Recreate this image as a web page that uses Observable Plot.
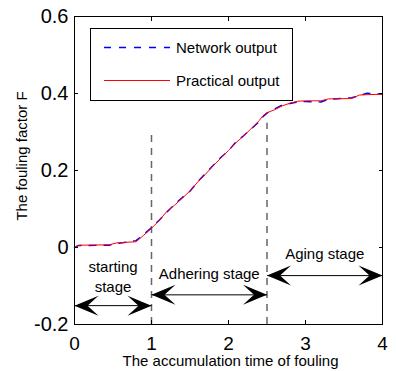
<!DOCTYPE html>
<html><head><meta charset="utf-8">
<script src="https://cdn.jsdelivr.net/npm/d3@7"></script>
<script src="https://cdn.jsdelivr.net/npm/@observablehq/plot@0.6"></script>
<style>body{margin:0;background:#fff}</style>
</head><body><div id="chart"></div>
<script>
// ---- data ----
const time      = [0, 0.05, 0.45, 0.55, 0.8, 0.9, 1.0, 1.1, 1.2, 1.3, 1.4, 1.5, 1.6, 1.7, 1.8, 1.9, 2.0, 2.1, 2.2, 2.3, 2.4, 2.45, 2.5, 2.6, 2.7, 2.8, 2.9, 3.0, 3.2, 3.3, 3.6, 3.7, 3.8, 4.0];
const practical = [0, 0.006, 0.007, 0.012, 0.015, 0.032, 0.05, 0.07, 0.094, 0.11, 0.128, 0.147, 0.17, 0.19, 0.212, 0.232, 0.252, 0.273, 0.29, 0.31, 0.33, 0.343, 0.35, 0.358, 0.368, 0.375, 0.38, 0.381, 0.381, 0.386, 0.387, 0.396, 0.397, 0.398];
const network   = [0, 0.005, 0.006, 0.010, 0.018, 0.034, 0.052, 0.071, 0.092, 0.112, 0.13, 0.146, 0.171, 0.192, 0.213, 0.234, 0.251, 0.275, 0.291, 0.309, 0.327, 0.34, 0.349, 0.36, 0.37, 0.374, 0.378, 0.379, 0.378, 0.385, 0.389, 0.394, 0.401, 0.398];
const seriesNames = ["Network output", "Practical output"];
const xTicks = [0, 1, 2, 3, 4];
const xTickLabels = ["0", "1", "2", "3", "4"];
const yTicks = [-0.2, 0, 0.2, 0.4, 0.6];
const yTickLabels = ["-0.2", "0", "0.2", "0.4", "0.6"];
const xTitle = "The accumulation time of fouling";
const yTitle = "The fouling factor F";
const stageNames  = ["starting\nstage", "Adhering stage", "Aging stage"];
const stageStart  = [0, 1, 2.5];
const stageEnd    = [1, 2.5, 4];
const stageArrowF = [-0.151, -0.123, -0.073];
const stageLabelF = [-0.072, -0.066, -0.013];
const boundaryT    = [1, 2.5];
const boundaryTopF = [0.293, 0.323];

// ---- tables ----
const networkRows = time.map((t, i) => ({t, F: network[i]}));
const practicalRows = time.map((t, i) => ({t, F: practical[i]}));
const stages = stageNames.map((name, i) => ({name, t0: stageStart[i], t1: stageEnd[i], a: stageArrowF[i], l: stageLabelF[i]}));
const boundaries = boundaryT.map((t, i) => ({t, top: boundaryTopF[i]}));
const heads = stages.flatMap(s => [{t: s.t0, F: s.a, rot: 180}, {t: s.t1, F: s.a, rot: 0}]);

const colors = {"Network output": "#0000ff", "Practical output": "#ff0000"};
const dashes = {"Network output": "7,8", "Practical output": null};
const widths = {"Network output": 1.4, "Practical output": 1};

const arrowHead = {
  draw(ctx) {
    ctx.moveTo(0, 0);
    ctx.lineTo(-24, -10);
    ctx.lineTo(-13, 0);
    ctx.lineTo(-24, 10);
    ctx.closePath();
  }
};

function legend(index, scales, values, dims) {
  const g = d3.create("svg:g");
  const x0 = dims.marginLeft + 16, y0 = dims.marginTop + 12;
  g.append("rect").attr("x", x0 + 0.5).attr("y", y0 + 0.5).attr("width", 202).attr("height", 72)
    .attr("fill", "white").attr("stroke", "black");
  seriesNames.forEach((s, i) => {
    const y = y0 + 19.5 + i * 33;
    g.append("line").attr("x1", x0 + 14).attr("x2", x0 + 80).attr("y1", y).attr("y2", y)
      .attr("stroke", colors[s]).attr("stroke-width", widths[s]).attr("stroke-dasharray", dashes[s]);
    g.append("text").attr("x", x0 + 86).attr("y", y).attr("dy", "0.35em").attr("text-anchor", "start")
      .attr("font-size", 15).attr("fill", "black").text(s);
  });
  return g.node();
}

function yTitleMark(index, scales, values, dims) {
  const g = d3.create("svg:g");
  g.append("text")
    .attr("transform", `translate(${dims.marginLeft - 52},${dims.marginTop + 140}) rotate(-90)`)
    .attr("text-anchor", "middle").attr("dy", "0.35em")
    .attr("font-size", 15).attr("fill", "black").text(yTitle);
  return g.node();
}

const chart = Plot.plot({
  width: 396,
  height: 371,
  marginLeft: 74,
  marginRight: 14,
  marginTop: 16,
  marginBottom: 47,
  style: {fontFamily: "'Liberation Sans', Arial, sans-serif", background: "white", color: "black"},
  x: {domain: [0, 4]},
  y: {domain: [-0.2, 0.6]},
  marks: [
    Plot.ruleX(boundaries, {x: "t", y1: -0.2, y2: "top", stroke: "#666", strokeWidth: 1.5, strokeDasharray: "7,6"}),
    Plot.line(networkRows, {x: "t", y: "F", stroke: colors["Network output"], strokeDasharray: dashes["Network output"], strokeWidth: widths["Network output"]}),
    Plot.line(practicalRows, {x: "t", y: "F", stroke: colors["Practical output"], strokeWidth: widths["Practical output"]}),
    Plot.link(stages, {x1: "t0", x2: "t1", y1: "a", y2: "a", stroke: "black", strokeWidth: 1}),
    Plot.dot(heads, {x: "t", y: "F", rotate: "rot", symbol: arrowHead, fill: "black", stroke: null, r: 5}),
    Plot.text(stages, {x: d => (d.t0 + d.t1) / 2, y: "l", text: "name", fontSize: 15, lineHeight: 1.33, fill: "black"}),
    Plot.frame({stroke: "black"}),
    Plot.axisX(xTicks, {anchor: "bottom", tickSize: -4, tickPadding: 16, fontSize: 19, label: null,
      tickFormat: d => xTickLabels[xTicks.indexOf(d)]}),
    Plot.axisX(xTicks, {anchor: "top", tickSize: -4, label: null, tickFormat: () => ""}),
    Plot.axisY(yTicks, {anchor: "left", tickSize: -4, tickPadding: 10, fontSize: 20, label: null,
      tickFormat: d => yTickLabels[yTicks.indexOf(d)]}),
    Plot.axisY(yTicks, {anchor: "right", tickSize: -4, label: null, tickFormat: () => ""}),
    Plot.text([xTitle], {frameAnchor: "bottom", dx: 2, dy: 31, lineAnchor: "top", fontSize: 15, fill: "black"}),
    yTitleMark,
    legend
  ]
});
document.getElementById("chart").appendChild(chart);
</script>
</body></html>
